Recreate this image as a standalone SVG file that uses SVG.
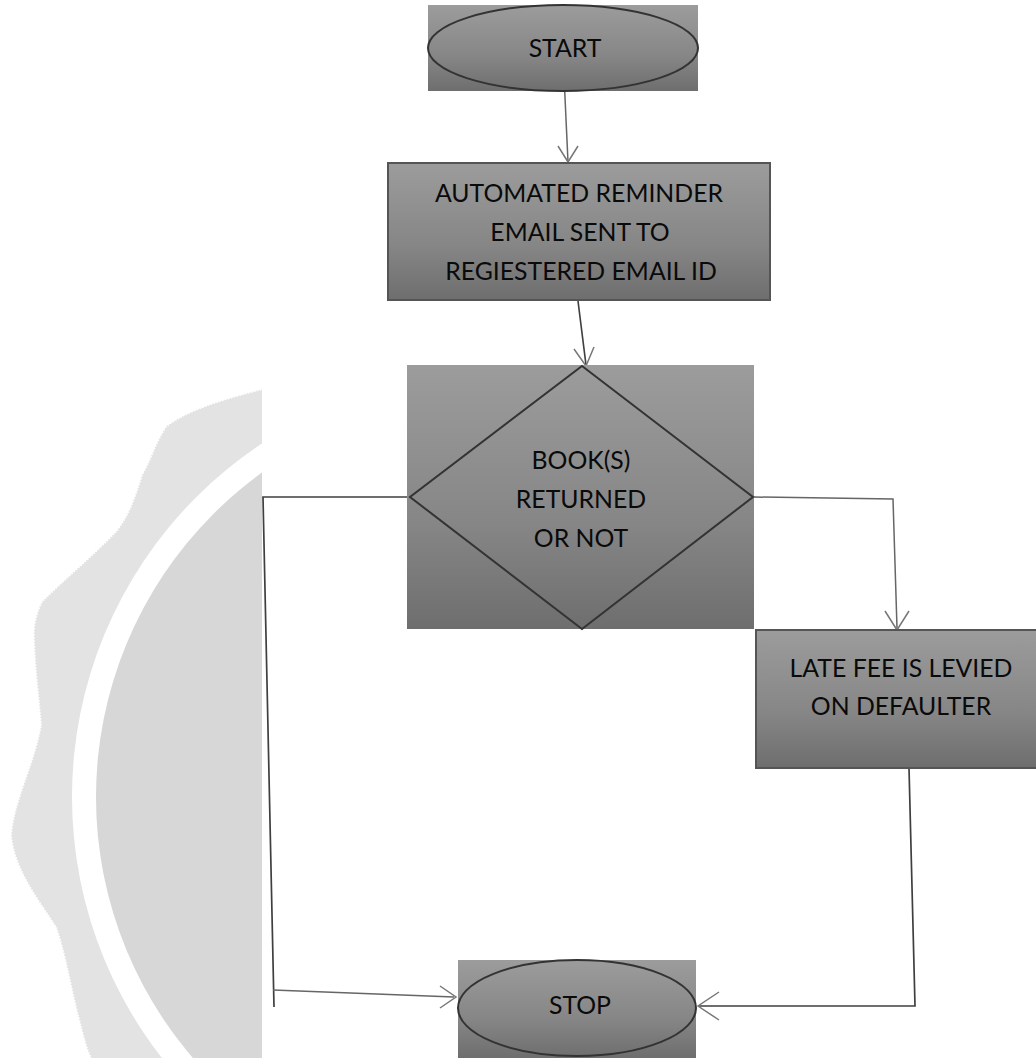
<svg xmlns="http://www.w3.org/2000/svg" width="1036" height="1058" viewBox="0 0 1036 1058">
<style>
.lbl{font-family:"Lato","Open Sans","Liberation Sans",sans-serif;font-size:24.8px;fill:#0a0a0a;text-anchor:middle}
.box{fill:url(#g)}
.edge{fill:none;stroke:#3f3f3f;stroke-width:1.7}
.outl{fill:none;stroke:#333;stroke-width:2}
.thin{fill:none;stroke:#666;stroke-width:1.5}
.head{fill:none;stroke:#777;stroke-width:1.5}
</style>
<defs>
<linearGradient id="g" x1="0" y1="0" x2="0" y2="1"><stop offset="0" stop-color="#9c9c9c"/><stop offset="0.6" stop-color="#868686"/><stop offset="1" stop-color="#6e6e6e"/></linearGradient>
<clipPath id="wm"><rect x="0" y="0" width="262" height="1058"/></clipPath>
</defs>
<rect width="1036" height="1058" fill="#fff"/>
<g id="watermark" clip-path="url(#wm)">
<path d="M263 390C225 400 190 410 167 427C155 445 152 460 143 475C135 500 130 515 117 532C95 555 65 580 43 602C36 615 34 628 35 642C36 670 40 700 42 725C35 765 15 800 12 835C15 870 40 900 57 927C68 960 72 990 80 1019C84 1035 87 1048 92 1058L263 1058Z" fill="#e3e3e3" stroke="#e3e3e3" stroke-width="2" stroke-dasharray="1.5 1.5"/>
<circle cx="496" cy="797" r="424" fill="#fff"/>
<circle cx="496" cy="797" r="400" fill="#d7d7d7"/>
</g>
<g id="connectors">
<path class="thin" d="M564 76L568 162"/><path class="head" d="M558 146L568 162L578 146"/>
<path class="edge" d="M578 301L586 365"/><path class="head" d="M574 349L586 366L594 347"/>
<path class="edge" d="M407 497H263L274 1007"/>
<path class="thin" d="M273 990L454 997"/><path class="head" d="M440 986L456 997L440 1008"/>
<path class="thin" d="M754 497L893 499L897 628"/><path class="head" d="M885 611L897 630L909 611"/>
<path class="edge" d="M909 768L915 1006H699"/><path class="head" d="M719 992L698 1006L719 1020"/>
</g>
<g id="start">
<rect class="box" x="428" y="5" width="270" height="86"/>
<ellipse class="outl" cx="563" cy="48" rx="135" ry="43"/>
<text class="lbl" x="565" y="57">START</text>
</g>
<g id="reminder">
<rect class="box" x="388" y="163" width="382" height="137" stroke="#555" stroke-width="2"/>
<text class="lbl" x="579" y="202">AUTOMATED REMINDER</text>
<text class="lbl" x="580" y="241">EMAIL SENT TO</text>
<text class="lbl" x="581" y="280">REGIESTERED EMAIL ID</text>
</g>
<g id="decision">
<rect class="box" x="407" y="365" width="347" height="264"/>
<path class="outl" d="M582 366L753 497L582 629L410 497Z"/>
<text class="lbl" x="581" y="469">BOOK(S)</text>
<text class="lbl" x="581" y="508">RETURNED</text>
<text class="lbl" x="581" y="547">OR NOT</text>
</g>
<g id="latefee">
<rect class="box" x="756" y="630" width="281" height="138" stroke="#555" stroke-width="2"/>
<text class="lbl" x="901" y="677">LATE FEE IS LEVIED</text>
<text class="lbl" x="901" y="715">ON DEFAULTER</text>
</g>
<g id="stop">
<rect class="box" x="458" y="960" width="238" height="98"/>
<ellipse class="outl" cx="577" cy="1008" rx="119" ry="48"/>
<text class="lbl" x="580" y="1014">STOP</text>
</g>
</svg>
